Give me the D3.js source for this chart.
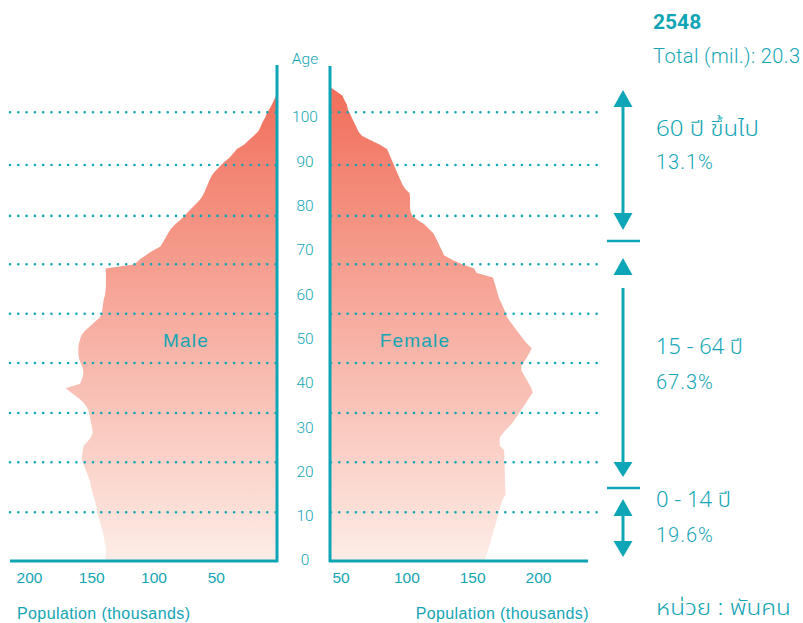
<!DOCTYPE html>
<html>
<head>
<meta charset="utf-8">
<script src="https://cdn.jsdelivr.net/npm/d3@7"></script>
<style>
  body { margin: 0; background: #fff; }
  svg text { font-family: Roboto, "Noto Sans Thai", "Noto Sans", sans-serif; fill: #12a5b5; }
</style>
</head>
<body>
<div id="chart"></div>
<script>
// single-year ages and population in thousands
const ages = d3.range(0, 108);
const male = [
  139, 138.5, 138.2, 138.2, 139, 139.7, 140.3, 141.2, 142.2, 143.2,
  144.2, 145.2, 145.6, 146.5, 147.5, 148.5, 149.5, 150.5, 151, 152.3,
  153.6, 155, 156.5, 157.7, 157.3, 156.8, 156, 153, 150, 148.8,
  149.2, 150, 150.8, 151.5, 152.2, 154, 157, 161.5, 166, 170.5,
  159, 157.5, 156.5, 156.4, 157.5, 159, 160, 160.4, 160.4, 160,
  159, 157.8, 155, 151, 147, 143, 141.6, 141, 140.5, 140,
  139, 138.5, 138.2, 138.2, 138.2, 138.2, 138.5, 115, 111.4, 106.2,
  101, 94.5, 92.3, 90.2, 88.2, 86, 82.5, 78.5, 75, 71.5,
  68, 64.5, 61.5, 59.5, 58, 56.5, 55, 53.2, 50.5, 47,
  43.5, 39, 36, 33, 27, 23.5, 19.5, 15.8, 14, 12.5,
  10.5, 9, 7, 5, 3.3, 1.5, 0.5, 0
];
const female = [
  159.5, 160.5, 161.5, 162.5, 163.5, 164.5, 165.5, 166.5, 167.5, 168.5,
  169.3, 170.2, 171.2, 172.2, 173.4, 175.5, 175.2, 175, 175, 174.9,
  174.8, 174.7, 174.6, 174.5, 174.4, 174.3, 171, 170.8, 171.2, 173.9,
  177, 180.1, 182.6, 184.9, 187.1, 189.3, 191.6, 193.8, 196, 195,
  193.1, 191.2, 189.3, 187.4, 187.4, 189.5, 191.6, 193.6, 195.2, 192,
  189, 186.5, 184, 181.5, 179, 176.5, 175.5, 174, 172.5, 170.8,
  169.7, 168.8, 167.8, 166.8, 165.8, 153.5, 151.5, 142.5, 134.7, 128.6,
  127.2, 125.5, 123.9, 122.2, 120.5, 117, 113.6, 108.5, 104.5, 103,
  102.8, 102.8, 102.8, 102.5, 99.2, 97, 95.5, 94, 92.6, 91.1,
  89.7, 88.2, 86.8, 85.3, 79.6, 72.9, 66.2, 63.5, 61.9, 60.3,
  58.7, 57.1, 55.5, 54.9, 53, 51.5, 47, 42
];
const ageTicks = [0, 10, 20, 30, 40, 50, 60, 70, 80, 90, 100];
const popTicks = [50, 100, 150, 200];
const gridAges = [101.3, 89.4, 77.9, 67, 55.8, 44.7, 33.4, 22.3, 11];

const yearLabel = "2548";
const totalLabel = "Total (mil.): 20.3";
const groupLabels = ["60 ปี ขึ้นไป", "15 - 64 ปี", "0 - 14 ปี"];
const groupShares = ["13.1%", "67.3%", "19.6%"];
const unitLabel = "หน่วย : พันคน";

const teal = "#0ea6b6";
const helv = '"Liberation Sans", Arial, sans-serif';
const thai = '"Noto Sans Thai", "Noto Sans Thai UI", Loma, Garuda, Waree, Sarabun, sans-serif';

const svg = d3.select("#chart").append("svg")
    .attr("width", 803)
    .attr("height", 623);

const y = d3.scaleLinear().domain([0, 100]).range([561, 118]);
const xm = d3.scaleLinear().domain([0, 200]).range([278, 29]);
const xf = d3.scaleLinear().domain([42, 238]).range([330, 588]);

// gradient fill, dark at the top fading towards the base
const grad = svg.append("defs").append("linearGradient")
    .attr("id", "fade")
    .attr("gradientUnits", "userSpaceOnUse")
    .attr("x1", 0).attr("x2", 0)
    .attr("y1", y(107)).attr("y2", y(0));
grad.append("stop").attr("offset", 0).attr("stop-color", "#f16e5a");
grad.append("stop").attr("offset", 1).attr("stop-color", "#fdede7");

const rows = ages.map((a, i) => ({ age: a, m: male[i], f: female[i] }));

const maleArea = d3.area()
    .y(d => y(d.age))
    .x0(xm(0))
    .x1(d => xm(d.m));
const femaleArea = d3.area()
    .y(d => y(d.age))
    .x0(xf(42))
    .x1(d => xf(d.f));

svg.append("path").datum(rows).attr("d", maleArea).attr("fill", "url(#fade)");
svg.append("path").datum(rows).attr("d", femaleArea).attr("fill", "url(#fade)");

// dotted guide lines
gridAges.forEach(a => {
    [[10, 277], [331, 600]].forEach(([a0, a1]) => {
        svg.append("line")
            .attr("x1", a0).attr("x2", a1)
            .attr("y1", y(a)).attr("y2", y(a))
            .attr("stroke", teal)
            .attr("stroke-width", 2.6)
            .attr("stroke-linecap", "round")
            .attr("stroke-dasharray", "0 8.3");
    });
});

// axes lines
svg.append("line").attr("x1", 277).attr("x2", 277).attr("y1", 65).attr("y2", 562)
    .attr("stroke", teal).attr("stroke-width", 3);
svg.append("line").attr("x1", 330).attr("x2", 330).attr("y1", 66).attr("y2", 562)
    .attr("stroke", teal).attr("stroke-width", 3);
svg.append("line").attr("x1", 10).attr("x2", 278).attr("y1", 561).attr("y2", 561)
    .attr("stroke", teal).attr("stroke-width", 3);
svg.append("line").attr("x1", 329).attr("x2", 588).attr("y1", 561).attr("y2", 561)
    .attr("stroke", teal).attr("stroke-width", 3);

// age labels in the gap
svg.selectAll(".age")
    .data(ageTicks)
    .enter()
    .append("text")
    .attr("x", 305)
    .attr("y", d => y(d) - 1)
    .attr("dy", "0.35em")
    .attr("text-anchor", "middle")
    .style("font-size", "15.5px")
    .style("font-weight", 300)
    .text(d => d);
svg.append("text").attr("x", 305).attr("y", 59).attr("dy", "0.35em")
    .attr("text-anchor", "middle")
    .style("font-size", "15.5px").style("font-weight", 300)
    .text("Age");

// population axes
[xm, xf].forEach(sc => {
    const g = svg.append("g")
        .attr("transform", "translate(0,561)")
        .call(d3.axisBottom(sc).tickValues(popTicks).tickSize(0).tickPadding(11));
    g.select(".domain").remove();
    g.selectAll("text")
        .style("font-size", "15.5px")
        .style("font-family", helv)
        .attr("fill", teal);
});

svg.append("text").attr("x", 17).attr("y", 613).attr("dy", "0.35em")
    .style("font-family", helv).style("font-size", "16px")
    .style("letter-spacing", "0.4px")
    .text("Population (thousands)");
svg.append("text").attr("x", 589).attr("y", 613).attr("dy", "0.35em")
    .attr("text-anchor", "end")
    .style("font-family", helv).style("font-size", "16px")
    .style("letter-spacing", "0.4px")
    .text("Population (thousands)");

svg.append("text").attr("x", 186).attr("y", 340).attr("dy", "0.35em")
    .attr("text-anchor", "middle")
    .style("font-family", helv).style("font-size", "19px")
    .style("letter-spacing", "1.2px")
    .text("Male");
svg.append("text").attr("x", 415).attr("y", 340).attr("dy", "0.35em")
    .attr("text-anchor", "middle")
    .style("font-family", helv).style("font-size", "19px")
    .style("letter-spacing", "1.2px")
    .text("Female");

// header on the right
svg.append("text").attr("x", 653).attr("y", 22).attr("dy", "0.35em")
    .style("font-size", "21px").style("font-weight", 700)
    .text(yearLabel);
svg.append("text").attr("x", 653).attr("y", 56).attr("dy", "0.35em")
    .style("font-size", "20px").style("font-weight", 300)
    .style("letter-spacing", "0.4px")
    .text(totalLabel);

// thai text is stretched sideways so the marks stay on their letters
function wideText(x, yy, str, size, width) {
    const t = svg.append("text")
        .attr("dy", "0.35em")
        .style("font-family", thai)
        .style("font-size", size + "px").style("font-weight", 300)
        .text(str);
    const k = width / t.node().getComputedTextLength();
    t.attr("transform", `translate(${x},${yy}) scale(${k},1)`);
}

// age-group brackets
const brackets = [
    { top: 90, headTop: 107, lineTop: 107, lineBot: 213, bot: 230, sep: 241, ly: 129, py: 162, w: 103 },
    { top: 258, headTop: 275, lineTop: 288, lineBot: 462, bot: 477, sep: 488, ly: 347, py: 382, w: 87 },
    { top: 499, headTop: 516, lineTop: 516, lineBot: 541, bot: 557, sep: null, ly: 500, py: 535, w: 75 }
];
const ax = 623;
brackets.forEach((b, i) => {
    svg.append("line").attr("x1", ax).attr("x2", ax)
        .attr("y1", b.lineTop).attr("y2", b.lineBot)
        .attr("stroke", teal).attr("stroke-width", 3);
    svg.append("path")
        .attr("d", `M${ax},${b.top}L${ax + 9.5},${b.headTop}L${ax - 9.5},${b.headTop}Z`)
        .attr("fill", teal);
    svg.append("path")
        .attr("d", `M${ax},${b.bot}L${ax + 9.5},${b.lineBot}L${ax - 9.5},${b.lineBot}Z`)
        .attr("fill", teal);
    if (b.sep) {
        svg.append("line").attr("x1", 607).attr("x2", 640)
            .attr("y1", b.sep).attr("y2", b.sep)
            .attr("stroke", teal).attr("stroke-width", 2.5);
    }
    wideText(656, b.ly, groupLabels[i], 21, b.w);
    svg.append("text").attr("x", 656).attr("y", b.py).attr("dy", "0.35em")
        .style("font-size", "20px").style("font-weight", 300)
        .style("letter-spacing", "1px")
        .text(groupShares[i]);
});

wideText(656, 607, unitLabel, 22, 135);
</script>
</body>
</html>
